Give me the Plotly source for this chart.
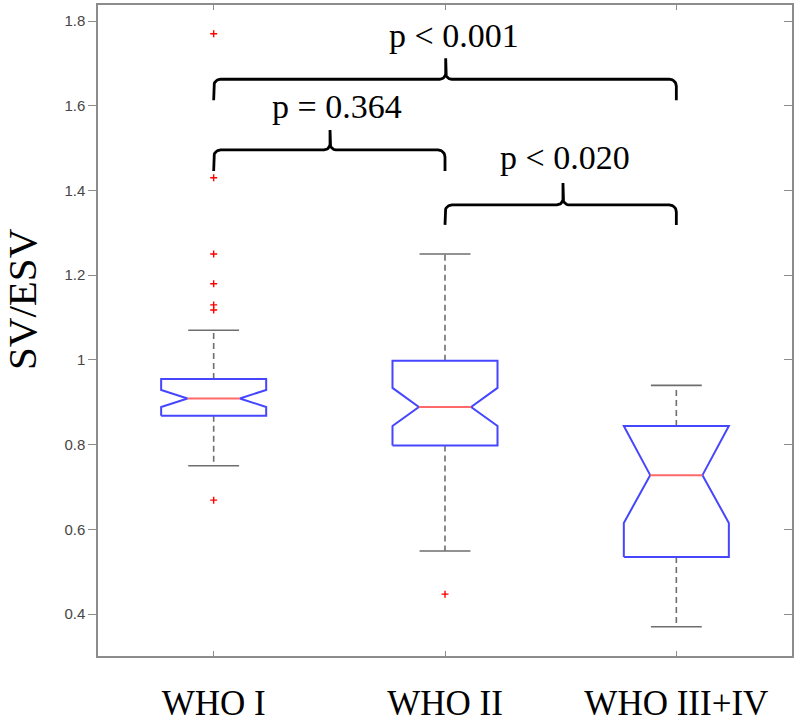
import numpy as np
import plotly.graph_objects as go

# ---------------- data ----------------
categories = ["WHO I", "WHO II", "WHO III+IV"]
upper_whisker = [1.07, 1.25, 0.94]
q3 = [0.955, 0.998, 0.844]
median = [0.909, 0.889, 0.728]
q1 = [0.868, 0.798, 0.535]
lower_whisker = [0.75, 0.549, 0.37]
notch_hi = [0.929, 0.934, 0.844]
notch_lo = [0.889, 0.844, 0.615]
outliers = [
    [1.77, 1.43, 1.25, 1.18, 1.13, 1.118, 0.669],
    [0.447],
    [],
]
y_tick_vals = [0.4, 0.6, 0.8, 1.0, 1.2, 1.4, 1.6, 1.8]
y_tick_text = ["0.4", "0.6", "0.8", "1", "1.2", "1.4", "1.6", "1.8"]
comparisons = [(1, 3, "p < 0.001"), (1, 2, "p = 0.364"), (2, 3, "p < 0.020")]

# ---------------- layout constants ----------------
W, H = 800, 724
ML, MR, MT, MB = 98, 8, 5, 68
XR = [0.5, 3.5]
YR = [0.301, 1.838]
pw, ph = W - ML - MR, H - MT - MB
kx = (XR[1] - XR[0]) / pw   # data units per px
ky = (YR[1] - YR[0]) / ph

BOX_HALF = 0.227
NOTCH_HALF = 0.113
CAP_HALF = 0.11
BLUE = "rgb(70,70,255)"
RED = "rgb(255,105,105)"
GRAY = "rgb(110,110,110)"

fig = go.Figure()

for i, cat in enumerate(categories):
    c = i + 1
    xs = [c - BOX_HALF, c - BOX_HALF, c - NOTCH_HALF, c - BOX_HALF, c - BOX_HALF,
          c + BOX_HALF, c + BOX_HALF, c + NOTCH_HALF, c + BOX_HALF, c + BOX_HALF, c - BOX_HALF]
    ys = [q1[i], notch_lo[i], median[i], notch_hi[i], q3[i],
          q3[i], notch_hi[i], median[i], notch_lo[i], q1[i], q1[i]]
    fig.add_trace(go.Scatter(x=[c, c, None, c, c],
                             y=[q3[i], upper_whisker[i], None, q1[i], lower_whisker[i]],
                             mode="lines", line=dict(color=GRAY, width=1.6, dash="6px,4px"),
                             hoverinfo="skip", showlegend=False))
    fig.add_trace(go.Scatter(x=[c - CAP_HALF, c + CAP_HALF, None, c - CAP_HALF, c + CAP_HALF],
                             y=[upper_whisker[i], upper_whisker[i], None, lower_whisker[i], lower_whisker[i]],
                             mode="lines", line=dict(color=GRAY, width=1.6),
                             hoverinfo="skip", showlegend=False))
    fig.add_trace(go.Scatter(x=xs, y=ys, mode="lines",
                             line=dict(color=BLUE, width=2),
                             hoverinfo="skip", showlegend=False))
    fig.add_trace(go.Scatter(x=[c - NOTCH_HALF, c + NOTCH_HALF], y=[median[i], median[i]],
                             mode="lines", line=dict(color=RED, width=2),
                             hoverinfo="skip", showlegend=False))
    if outliers[i]:
        fig.add_trace(go.Scatter(x=[c] * len(outliers[i]), y=outliers[i], mode="markers",
                                 marker=dict(symbol="cross-thin", size=5,
                                             line=dict(color="red", width=1.4)),
                                 hoverinfo="skip", showlegend=False))


def arc(cx, cy, r, t0, t1, n=12):
    t = np.linspace(np.radians(t0), np.radians(t1), n)
    return list(cx + r * np.cos(t) * kx), list(cy + r * np.sin(t) * ky)


def brace(x1, x2, xc, yl, depth, peak, r=7, rc=6):
    X, Y = [x1], [yl - depth * ky]
    ax, ay = arc(x1 + r * kx, yl - r * ky, r, 180, 90); X += ax; Y += ay
    ax, ay = arc(xc - rc * kx, yl + rc * ky, rc, -90, 0); X += ax; Y += ay
    X.append(xc); Y.append(yl + peak * ky)
    ax, ay = arc(xc + rc * kx, yl + rc * ky, rc, 180, 270); X += ax; Y += ay
    ax, ay = arc(x2 - r * kx, yl - r * ky, r, 90, 0); X += ax; Y += ay
    X.append(x2); Y.append(yl - depth * ky)
    return X, Y


brace_geom = [
    dict(yl=1.6627, depth=21, peak=21, xc=2.003, tx=2.039, ty=1.767),
    dict(yl=1.4958, depth=21, peak=20, xc=1.503, tx=1.533, ty=1.598),
    dict(yl=1.3660, depth=20, peak=22, xc=2.51, tx=2.519, ty=1.477),
]

annotations = []
for (a, b, label), g in zip(comparisons, brace_geom):
    bx, by = brace(a, b, g["xc"], g["yl"], g["depth"], g["peak"])
    fig.add_trace(go.Scatter(x=bx, y=by, mode="lines",
                             line=dict(color="black", width=2.8),
                             hoverinfo="skip", showlegend=False))
    annotations.append(dict(x=g["tx"], y=g["ty"], xref="x", yref="y", text=label,
                            showarrow=False, xanchor="center", yanchor="middle",
                            font=dict(family="Liberation Serif", size=34, color="black")))

annotations.append(dict(x=(22 - ML) / pw, y=(H - MB - 299) / ph, xref="paper", yref="paper",
                        text="SV/ESV", textangle=-90, showarrow=False,
                        xanchor="center", yanchor="middle",
                        font=dict(family="Liberation Serif", size=41, color="black")))

fig.add_trace(go.Scatter(x=[None], y=[None], xaxis="x2", yaxis="y2", mode="markers",
                         hoverinfo="skip", showlegend=False))

axis_line = dict(showline=True, linecolor="rgb(140,140,140)", linewidth=1.5, automargin=False,
                 showgrid=False, zeroline=False, tickcolor="rgb(140,140,140)", tickwidth=1.2)

fig.update_layout(
    width=W, height=H,
    margin=dict(l=ML, r=MR, t=MT, b=MB),
    paper_bgcolor="white", plot_bgcolor="white",
    showlegend=False,
    annotations=annotations,
    xaxis=dict(range=XR, tickvals=[1, 2, 3], ticktext=categories, ticks="inside", ticklen=5,
               ticklabelstandoff=15,
               tickfont=dict(family="Liberation Serif", size=35, color="black"), **axis_line),
    yaxis=dict(range=YR, tickvals=y_tick_vals, ticktext=y_tick_text, ticks="outside", ticklen=8,
               tickfont=dict(family="Liberation Sans", size=15, color="rgb(70,70,70)"), **axis_line),
    xaxis2=dict(range=XR, overlaying="x", side="top", tickvals=[1, 2, 3], ticks="inside",
                ticklen=5, showticklabels=False, **axis_line),
    yaxis2=dict(range=YR, overlaying="y", side="right", tickvals=y_tick_vals, ticks="inside",
                ticklen=8, showticklabels=False, **axis_line),
)

fig.write_html("out.html", config={"displayModeBar": False},
               post_script="document.body.style.margin='0px';document.body.style.padding='0px';")
